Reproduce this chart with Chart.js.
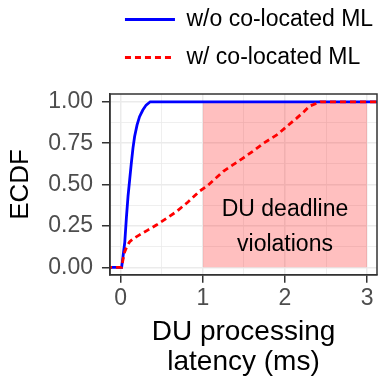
<!DOCTYPE html>
<html lang="en">
    <head>
        <meta charset="utf-8" />
        <script src="https://cdn.jsdelivr.net/npm/chart.js@4/dist/chart.umd.min.js"></script>
        <title>DU processing latency ECDF</title>
        <style>
            body { margin: 0; background: #fff; }
            canvas { display: block; }
        </style>
    </head>
    <body>
        <canvas id="miGrafico" width="385" height="378"></canvas>
        <script>
            // series
            const sinML_x = [-0.3, 0.012, 0.03, 0.05, 0.07, 0.09, 0.11, 0.13, 0.15, 0.17, 0.2, 0.23, 0.27, 0.31, 0.36, 0.4, 3.4];
            const sinML_y = [0, 0, 0.07, 0.15, 0.3, 0.43, 0.53, 0.63, 0.72, 0.79, 0.86, 0.91, 0.95, 0.98, 1, 1, 1];
            const conML_x = [-0.3, 0.012, 0.03, 0.05, 0.08, 0.11, 0.16, 0.23, 0.33, 0.44, 0.56, 0.68, 0.82, 0.96, 1.05, 1.15, 1.25, 1.37, 1.49, 1.62, 1.74, 1.9, 2.02, 2.14, 2.23, 2.3, 2.38, 2.43, 3.4];
            const conML_y = [0, 0, 0.05, 0.095, 0.13, 0.155, 0.175, 0.196, 0.225, 0.257, 0.297, 0.337, 0.395, 0.46, 0.49, 0.535, 0.58, 0.62, 0.66, 0.705, 0.75, 0.8, 0.85, 0.9, 0.94, 0.974, 0.99, 1, 1];
            const etiquetas = ["w/o co-located ML", "w/ co-located ML"];
            // zona de violaciones
            const zonaX = [1, 3];
            const zonaTop = 1;
            const zonaBase = 0;
            const notaTexto = ["DU deadline", "violations"];
            const notaX = 2;
            const notaY = [0.35, 0.138];
            // ticks
            const xMayor = [0, 1, 2, 3];
            const xMenor = [0.5, 1.5, 2.5];
            const xEtiquetas = ["0", "1", "2", "3"];
            const yMayor = [0, 0.25, 0.5, 0.75, 1];
            const yMenor = [0.125, 0.375, 0.625, 0.875];
            const yEtiquetas = ["0.00", "0.25", "0.50", "0.75", "1.00"];

            Chart.defaults.font.family = "'Liberation Sans', Arial, sans-serif";

            const puntos = (xs, ys) => xs.map((x, i) => ({ x: x, y: ys[i] }));

            //separacion entre leyenda y panel
            const margenLeyenda = {
                id: "margenLeyenda",
                beforeInit(chart) {
                    const fitOriginal = chart.legend.fit;
                    chart.legend.fit = function () {
                        fitOriginal.call(this);
                        this.height += 15;
                    };
                }
            };

            //texto de la zona y borde del panel
            const panel = {
                id: "panel",
                afterDatasetsDraw(chart) {
                    const { ctx, chartArea, scales } = chart;
                    ctx.save();
                    ctx.font = "23px 'Liberation Sans', Arial, sans-serif";
                    ctx.fillStyle = "#000";
                    ctx.textAlign = "center";
                    ctx.textBaseline = "middle";
                    notaTexto.forEach((t, i) => {
                        ctx.fillText(t, scales.x.getPixelForValue(notaX), scales.y.getPixelForValue(notaY[i]));
                    });
                    ctx.strokeStyle = "#333333";
                    ctx.lineWidth = 1.5;
                    ctx.strokeRect(chartArea.left, chartArea.top, chartArea.right - chartArea.left, chartArea.bottom - chartArea.top);
                    ctx.restore();
                }
            };

            const esMayor = (lista, v) => lista.indexOf(v) >= 0;

            new Chart(document.getElementById("miGrafico").getContext("2d"), {
                type: "line",
                data: {
                    datasets: [
                        { label: etiquetas[0], data: puntos(sinML_x, sinML_y), borderColor: "#0000FF", borderWidth: 2.8, pointRadius: 0, tension: 0, order: 1 },
                        { label: etiquetas[1], data: puntos(conML_x, conML_y), borderColor: "#FF0000", borderWidth: 2.8, borderDash: [6, 4], pointRadius: 0, tension: 0, order: 0 },
                        { label: "zona", data: puntos(zonaX, [zonaTop, zonaTop]), borderWidth: 0, borderColor: "rgba(0,0,0,0)", backgroundColor: "rgba(255,0,0,0.25)", fill: { value: zonaBase }, pointRadius: 0, order: 2 }
                    ]
                },
                options: {
                    responsive: false,
                    animation: false,
                    layout: { padding: { top: -7, left: 5, right: 8, bottom: 0 } },
                    plugins: {
                        tooltip: { enabled: false },
                        legend: {
                            position: "top",
                            align: "start",
                            fullSize: false,
                            labels: {
                                usePointStyle: true,
                                pointStyle: "line",
                                pointStyleWidth: 50,
                                boxWidth: 50,
                                padding: 15,
                                color: "#000",
                                font: { size: 23 },
                                filter: (item) => item.datasetIndex < 2,
                                sort: (a, b) => a.datasetIndex - b.datasetIndex,
                                generateLabels: (chart) => {
                                    const items = Chart.defaults.plugins.legend.labels.generateLabels(chart);
                                    items.forEach((it) => {
                                        const ds = chart.data.datasets[it.datasetIndex];
                                        it.lineDash = ds.borderDash || [];
                                        it.lineWidth = ds.borderWidth;
                                        it.strokeStyle = ds.borderColor;
                                    });
                                    return items;
                                }
                            }
                        }
                    },
                    scales: {
                        x: {
                            type: "linear",
                            min: -0.13,
                            max: 3.12,
                            afterBuildTicks: (axis) => {
                                axis.ticks = xMayor.concat(xMenor).sort((a, b) => a - b).map((v) => ({ value: v }));
                            },
                            ticks: {
                                autoSkip: false,
                                maxRotation: 0,
                                padding: 2,
                                color: "#4D4D4D",
                                font: { size: 23 },
                                callback: (v) => (esMayor(xMayor, v) ? xEtiquetas[xMayor.indexOf(v)] : "")
                            },
                            grid: {
                                color: "#EBEBEB",
                                lineWidth: (c) => (esMayor(xMayor, c.tick.value) ? 1.5 : 0.8),
                                tickColor: (c) => (esMayor(xMayor, c.tick.value) ? "#333333" : "rgba(0,0,0,0)"),
                                tickLength: 8,
                                tickWidth: 1.5
                            },
                            border: { display: true, color: "#333333", width: 1.5 },
                            title: {
                                display: true,
                                text: ["DU processing", "latency (ms)"],
                                color: "#000",
                                font: { size: 28, lineHeight: 1.1 },
                                padding: { top: 2, bottom: 0 }
                            }
                        },
                        y: {
                            type: "linear",
                            min: -0.045,
                            max: 1.047,
                            afterBuildTicks: (axis) => {
                                axis.ticks = yMayor.concat(yMenor).sort((a, b) => a - b).map((v) => ({ value: v }));
                            },
                            ticks: {
                                autoSkip: false,
                                padding: 9,
                                color: "#4D4D4D",
                                font: { size: 23 },
                                callback: (v) => (esMayor(yMayor, v) ? yEtiquetas[yMayor.indexOf(v)] : "")
                            },
                            grid: {
                                color: "#EBEBEB",
                                lineWidth: (c) => (esMayor(yMayor, c.tick.value) ? 1.5 : 0.8),
                                tickColor: (c) => (esMayor(yMayor, c.tick.value) ? "#333333" : "rgba(0,0,0,0)"),
                                tickLength: 8,
                                tickWidth: 1.5
                            },
                            border: { display: true, color: "#333333", width: 1.5 },
                            title: {
                                display: true,
                                text: "ECDF",
                                color: "#000",
                                font: { size: 26 },
                                padding: { top: 0, bottom: 3 }
                            }
                        }
                    }
                },
                plugins: [margenLeyenda, panel]
            });
        </script>
    </body>
</html>
